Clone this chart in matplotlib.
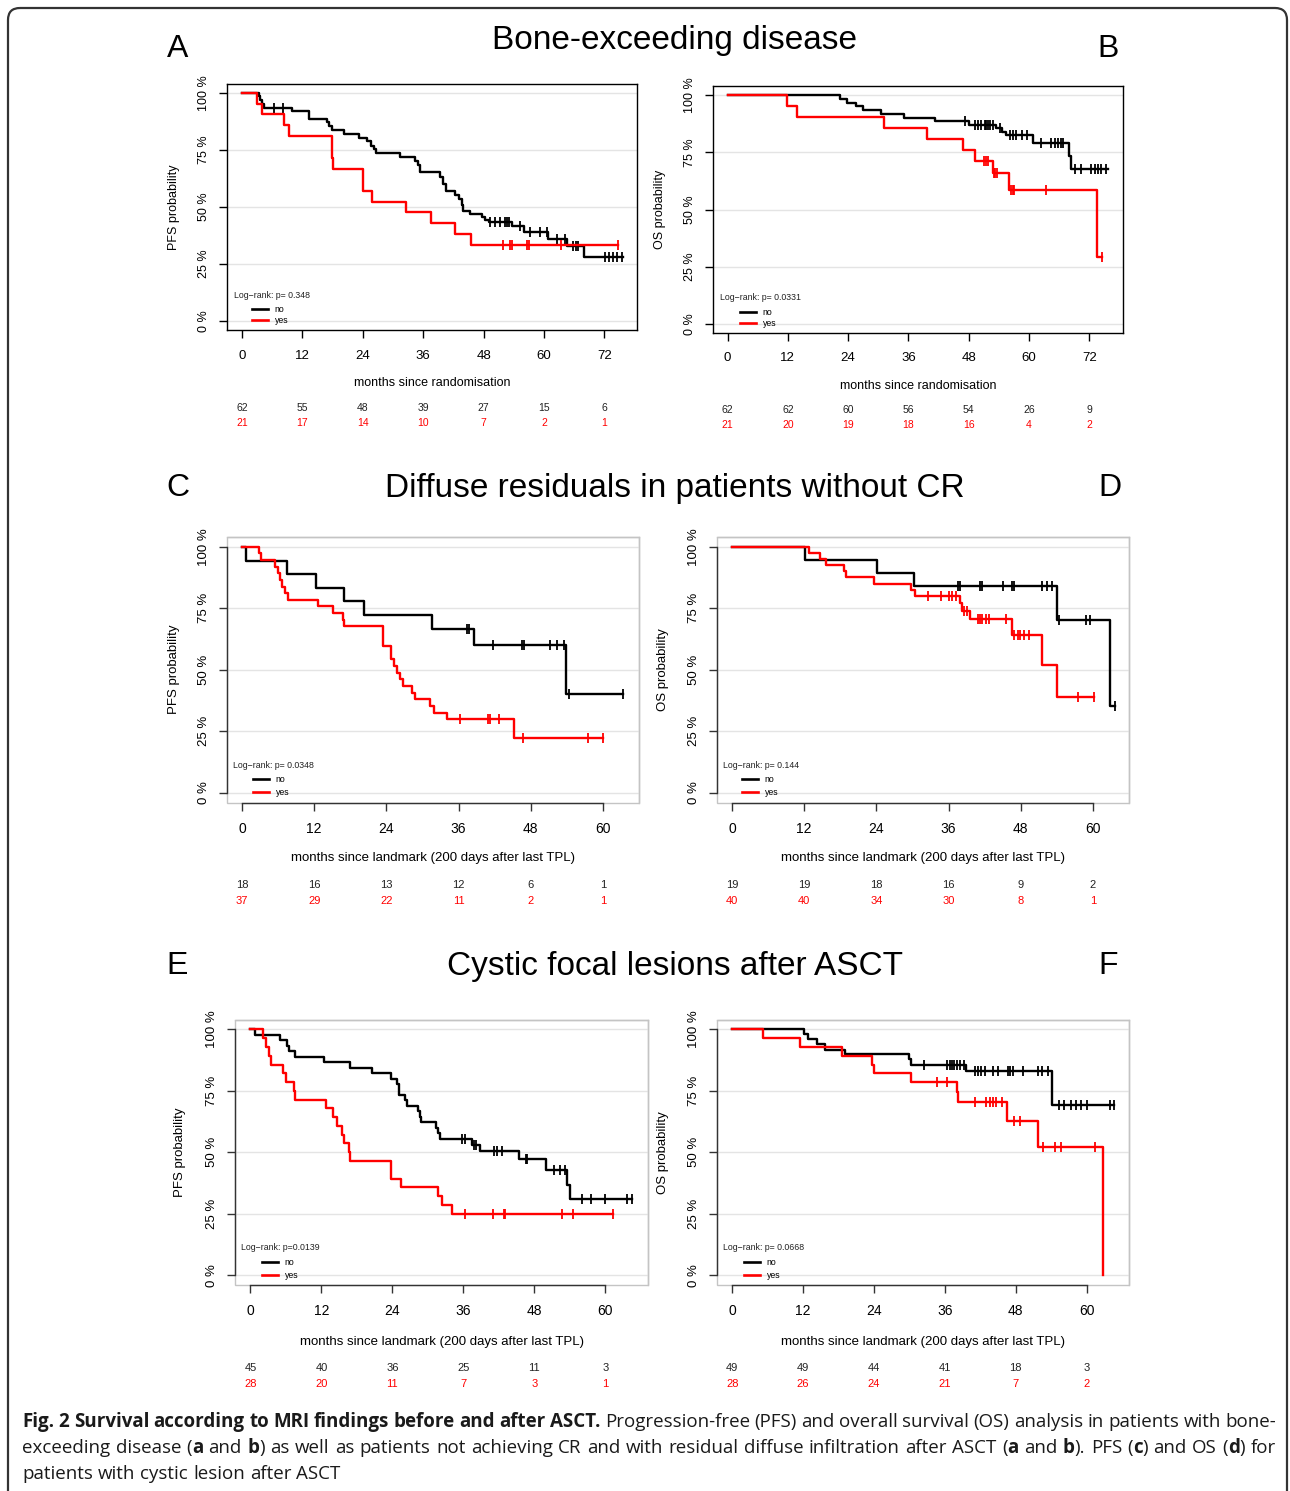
import numpy as np
import matplotlib
matplotlib.use("Agg")
import matplotlib.pyplot as plt
from matplotlib.patches import FancyBboxPatch, Rectangle
from matplotlib.lines import Line2D
from matplotlib.transforms import blended_transform_factory

W, H = 1290, 1491
RED = "#ff0000"
plt.rcParams["font.family"] = ["Liberation Sans", "DejaVu Sans"]

# ---------------- data (months, survival %) ----------------
# A: PFS, bone-exceeding disease
A_no_t = [3.3, 3.6, 4.0, 4.4, 9.9, 13.3, 16.8, 17.3, 17.8, 20.2, 23.3, 24.8, 25.6, 26.2, 26.7,
          31.3, 34.3, 34.9, 35.4, 39.3, 40.0, 40.6, 42.4, 43.2, 43.7, 44.0, 45.3, 47.7, 48.3,
          49.0, 53.6, 56.0, 60.9, 64.6, 68.0]
A_no_s = [98.4, 96.8, 95.2, 93.5, 91.9, 88.6, 87.0, 85.3, 83.6, 82.0, 80.3, 78.7, 76.8, 75.2, 73.6,
          71.9, 70.2, 68.3, 65.3, 63.3, 60.1, 56.9, 55.2, 53.6, 51.0, 48.3, 46.8, 45.5, 44.5,
          43.5, 41.5, 38.9, 36.0, 33.0, 28.0]
A_no_c = [6.4, 8.1, 49.3, 50.3, 51.3, 52.3, 52.7, 53.1, 55.2, 57.3, 59.3, 60.6, 62.6, 64.1,
          65.8, 66.3, 66.8, 72.2, 72.9, 73.7, 74.5, 75.5]
A_no_end = 75.7
A_yes_t = [2.9, 3.9, 8.4, 9.4, 17.9, 18.1, 24.0, 25.8, 32.6, 37.5, 42.4, 45.5]
A_yes_s = [95.2, 90.5, 85.7, 81.0, 71.4, 66.7, 57.1, 52.4, 47.6, 42.9, 38.1, 33.3]
A_yes_c = [51.8, 53.3, 53.7, 56.6, 57.0, 63.3, 74.7]
A_yes_end = 74.7
A_p = "Log\u2212rank: p= 0.348"
A_risk_no = [62, 55, 48, 39, 27, 15, 6]
A_risk_yes = [21, 17, 14, 10, 7, 2, 1]

# B: OS, bone-exceeding disease
B_no_t = [22.3, 23.8, 25.6, 26.9, 30.5, 35.2, 41.2, 48.0, 53.5, 54.7, 55.5, 60.8, 67.9, 68.4]
B_no_s = [98.4, 96.8, 95.2, 93.5, 91.9, 90.3, 88.7, 87.1, 85.6, 84.1, 82.6, 79.3, 73.5, 67.9]
B_no_c = [47.2, 49.2, 49.8, 50.5, 51.2, 51.5, 51.9, 52.2, 52.8, 54.2, 56.2, 56.8, 57.5, 58.5,
          59.5, 62.4, 64.4, 65.1, 65.8, 66.4, 66.8, 69.1, 70.4, 72.4, 73.1, 73.7, 74.4, 75.4]
B_no_end = 75.7
B_yes_t = [11.9, 13.8, 31.1, 39.7, 46.8, 49.2, 52.8, 56.1, 73.5]
B_yes_s = [95.2, 90.5, 85.7, 81.0, 76.2, 71.4, 65.9, 58.6, 29.3]
B_yes_c = [51.0, 51.5, 51.8, 53.0, 53.3, 53.6, 56.5, 56.8, 57.1, 63.4, 74.5]
B_yes_end = 74.5
B_p = "Log\u2212rank: p= 0.0331"
B_risk_no = [62, 62, 60, 56, 54, 26, 9]
B_risk_yes = [21, 20, 19, 18, 16, 4, 2]

# C: PFS, diffuse residuals without CR
C_no_t = [0.7, 7.5, 12.3, 16.9, 20.2, 31.6, 38.5, 53.9]
C_no_s = [94.4, 88.9, 83.3, 77.8, 72.2, 66.7, 60.0, 40.0]
C_no_c = [37.4, 37.8, 41.7, 46.5, 46.8, 51.2, 52.4, 53.5, 54.3, 63.4]
C_no_end = 63.4
C_yes_t = [2.9, 3.2, 5.5, 5.9, 6.3, 6.7, 7.2, 7.7, 12.7, 15.2, 16.8, 17.0, 23.4, 24.7, 25.2,
           25.8, 26.3, 26.8, 28.3, 28.8, 31.3, 31.9, 34.0, 45.3]
C_yes_s = [97.3, 94.6, 91.9, 89.2, 86.5, 83.8, 81.1, 78.4, 75.7, 73.0, 70.3, 67.6, 59.6, 54.2,
           51.5, 48.8, 46.1, 43.4, 40.7, 37.9, 35.2, 32.5, 29.8, 22.4]
C_yes_c = [36.2, 40.9, 41.2, 42.7, 46.7, 57.5, 60.0]
C_yes_end = 60.0
C_p = "Log\u2212rank: p= 0.0348"
C_risk_no = [18, 16, 13, 12, 6, 1]
C_risk_yes = [37, 29, 22, 11, 2, 1]

# D: OS, diffuse residuals without CR
D_no_t = [12.1, 24.1, 30.3, 54.0, 62.8]
D_no_s = [94.7, 89.5, 84.2, 70.2, 35.1]
D_no_c = [37.6, 37.9, 41.2, 41.6, 45.1, 46.5, 46.8, 51.5, 52.3, 53.2, 54.3, 58.8, 59.5, 63.6]
D_no_end = 63.6
D_yes_t = [12.8, 14.6, 15.7, 18.6, 18.9, 23.6, 29.8, 30.4, 37.9, 38.2, 39.5, 46.5, 51.5, 54.1]
D_yes_s = [97.5, 95.0, 92.5, 90.0, 87.5, 85.0, 82.5, 80.0, 77.1, 74.0, 70.6, 64.1, 51.9, 38.9]
D_yes_c = [32.6, 34.7, 36.1, 36.5, 37.3, 38.6, 39.0, 40.9, 41.2, 41.6, 42.3, 42.7, 45.6, 46.8,
           47.6, 47.9, 48.6, 49.3, 57.6, 60.1]
D_yes_end = 60.1
D_p = "Log\u2212rank: p= 0.144"
D_risk_no = [19, 19, 18, 16, 9, 2]
D_risk_yes = [40, 40, 34, 30, 8, 1]

# E: PFS, cystic focal lesions
E_no_t = [0.7, 5.0, 6.2, 6.5, 7.6, 12.4, 16.9, 20.5, 23.7, 24.8, 25.1, 25.2, 26.2, 26.5, 28.3,
          28.6, 28.8, 31.4, 31.7, 32.0, 37.5, 38.8, 45.4, 49.9, 53.5, 54.0]
E_no_s = [97.8, 95.6, 93.3, 91.1, 88.9, 86.7, 84.4, 82.2, 80.0, 77.8, 75.6, 73.3, 71.1, 68.9, 66.7,
          64.4, 62.2, 60.0, 57.8, 55.6, 53.1, 50.4, 47.3, 42.6, 36.8, 30.9]
E_no_c = [35.8, 36.2, 37.8, 38.1, 41.1, 41.7, 42.5, 46.6, 46.8, 51.3, 52.4, 53.2, 56.1, 57.5,
          60.0, 63.7, 64.5]
E_no_end = 64.5
E_yes_t = [2.1, 2.7, 3.1, 3.4, 5.5, 6.1, 7.3, 7.5, 12.7, 14.0, 14.6, 15.5, 15.8, 16.7, 16.9,
           23.7, 25.5, 31.7, 32.3, 34.1]
E_yes_s = [96.4, 92.9, 89.3, 85.7, 82.1, 78.6, 75.0, 71.4, 67.9, 64.3, 60.7, 57.1, 53.6, 50.0,
           46.4, 39.1, 35.8, 32.2, 28.6, 25.0]
E_yes_c = [36.3, 41.0, 42.8, 43.1, 52.7, 54.6, 61.3]
E_yes_end = 61.3
E_p = "Log\u2212rank: p=0.0139"
E_risk_no = [45, 40, 36, 25, 11, 3]
E_risk_yes = [28, 20, 11, 7, 3, 1]

# F: OS, cystic focal lesions
F_no_t = [12.1, 12.9, 14.4, 15.7, 19.1, 29.9, 30.3, 39.6, 54.1]
F_no_s = [98.0, 95.9, 93.9, 91.8, 89.8, 87.8, 85.7, 83.2, 69.2]
F_no_c = [32.5, 36.3, 36.8, 37.2, 37.6, 38.1, 38.5, 39.3, 41.1, 41.7, 42.1, 42.8, 44.2, 45.0,
          46.7, 47.0, 47.6, 49.3, 51.7, 52.4, 53.5, 55.4, 56.2, 57.4, 58.3, 59.1, 60.0, 63.9, 64.7]
F_no_end = 64.7
F_yes_t = [5.2, 11.4, 18.6, 23.7, 24.0, 30.2, 38.0, 38.2, 46.5, 51.7, 62.8]
F_yes_s = [96.4, 92.9, 89.3, 85.7, 82.1, 78.6, 74.6, 70.4, 62.6, 52.1, 0.0]
F_yes_c = [34.7, 36.4, 41.1, 43.0, 43.6, 44.2, 44.7, 45.6, 47.8, 48.7, 52.6, 54.6, 55.6, 61.4]
F_yes_end = 62.8
F_p = "Log\u2212rank: p= 0.0668"
F_risk_no = [49, 49, 44, 41, 18, 3]
F_risk_yes = [28, 26, 24, 21, 7, 2]

TICKS_72 = [0, 12, 24, 36, 48, 60, 72]
TICKS_60 = [0, 12, 24, 36, 48, 60]
XLAB_RAND = "months since randomisation"
XLAB_LAND = "months since landmark (200 days after last TPL)"

SECTIONS = ["Bone-exceeding disease", "Diffuse residuals in patients without CR",
            "Cystic focal lesions after ASCT"]
LETTERS = ["A", "B", "C", "D", "E", "F"]

CAPTION = [
    "*Fig. 2 Survival according to MRI findings before and after ASCT.* Progression-free (PFS) "
    "and overall survival (OS) analysis in patients with bone-",
    "exceeding disease (*a* and *b*) as well as patients not achieving CR and with residual "
    "diffuse infiltration after ASCT (*a* and *b*). PFS (*c*) and OS (*d*) for",
    "patients with cystic lesion after ASCT",
]

# ---------------- figure ----------------
fig = plt.figure(figsize=(W / 100, H / 100), dpi=100)
bg = fig.add_axes([0, 0, 1, 1], zorder=-1)
bg.set_xlim(0, W)
bg.set_ylim(H, 0)
bg.axis("off")

bg.add_patch(FancyBboxPatch((8, 8), 1279, 1520, boxstyle="round,pad=0,rounding_size=12",
                            fill=False, ec="#333333", lw=1.6, clip_on=False))


def km(ax, t, s, cens, end, color):
    x = np.r_[0, t, end]
    y = np.r_[100, s, s[-1]]
    ax.step(x, y, where="post", color=color, lw=1.7, zorder=3)
    c = np.asarray(cens)
    idx = np.searchsorted(x, c, side="right") - 1
    ax.plot(c, y[idx], ls="none", marker="|", ms=7, mew=1.3, color=color, zorder=3)


# layout per panel: box (px), xlim, ylabel x, xlabel y, risk rows y, log-rank pos, legend pos, row gap
layout = [
    dict(box=(227, 83.6, 637, 330.4), xlim=(-3.0, 78.5), ylx=174, xly=383, ry=(408, 423),
         lr=(234, 295), lg=(252, 305), gap=0.25, fs=9.5, rfs=7.5, heavy=True),
    dict(box=(713, 86.2, 1123, 333.1), xlim=(-2.9, 78.7), ylx=660, xly=386, ry=(410, 425),
         lr=(720, 298), lg=(740, 308), gap=0.25, fs=9.5, rfs=7.5, heavy=True),
    dict(box=(227, 536.9, 639, 802.5), xlim=(-2.5, 66.0), ylx=174, xly=858, ry=(885, 901),
         lr=(233, 765), lg=(253, 775), gap=0.45, fs=10, rfs=8, heavy=False),
    dict(box=(717, 536.9, 1129, 802.5), xlim=(-2.5, 66.0), ylx=663, xly=858, ry=(885, 901),
         lr=(723, 765), lg=(742, 775), gap=0.45, fs=10, rfs=8, heavy=False),
    dict(box=(235, 1019.5, 648, 1285.1), xlim=(-2.6, 67.2), ylx=180, xly=1342, ry=(1368, 1384),
         lr=(241, 1247), lg=(262, 1258), gap=0.45, fs=10, rfs=8, heavy=False),
    dict(box=(717, 1019.5, 1129, 1285.1), xlim=(-2.6, 67.2), ylx=663, xly=1342, ry=(1368, 1384),
         lr=(723, 1247), lg=(744, 1258), gap=0.45, fs=10, rfs=8, heavy=False),
]

panels = [
    (A_no_t, A_no_s, A_no_c, A_no_end, A_yes_t, A_yes_s, A_yes_c, A_yes_end, A_p, A_risk_no, A_risk_yes,
     TICKS_72, "PFS probability", XLAB_RAND),
    (B_no_t, B_no_s, B_no_c, B_no_end, B_yes_t, B_yes_s, B_yes_c, B_yes_end, B_p, B_risk_no, B_risk_yes,
     TICKS_72, "OS probability", XLAB_RAND),
    (C_no_t, C_no_s, C_no_c, C_no_end, C_yes_t, C_yes_s, C_yes_c, C_yes_end, C_p, C_risk_no, C_risk_yes,
     TICKS_60, "PFS probability", XLAB_LAND),
    (D_no_t, D_no_s, D_no_c, D_no_end, D_yes_t, D_yes_s, D_yes_c, D_yes_end, D_p, D_risk_no, D_risk_yes,
     TICKS_60, "OS probability", XLAB_LAND),
    (E_no_t, E_no_s, E_no_c, E_no_end, E_yes_t, E_yes_s, E_yes_c, E_yes_end, E_p, E_risk_no, E_risk_yes,
     TICKS_60, "PFS probability", XLAB_LAND),
    (F_no_t, F_no_s, F_no_c, F_no_end, F_yes_t, F_yes_s, F_yes_c, F_yes_end, F_p, F_risk_no, F_risk_yes,
     TICKS_60, "OS probability", XLAB_LAND),
]

for lay, (nt, ns, nc, ne, yt, ys, yc, ye, ptxt, rno, ryes, ticks, ylab, xlab) in zip(layout, panels):
    x0, y0, x1, y1 = lay["box"]
    ax = fig.add_axes([x0 / W, 1 - y1 / H, (x1 - x0) / W, (y1 - y0) / H])
    ax.patch.set_alpha(0)  # let the log-rank text underneath show through
    ax.set_xlim(*lay["xlim"])
    ax.set_ylim(-4, 104)
    for g in [0, 25, 50, 75, 100]:
        ax.axhline(g, color="#e4e4e4", lw=1.0, zorder=1)

    km(ax, nt, ns, nc, ne, "black")
    km(ax, yt, ys, yc, ye, RED)

    ax.set_xticks(ticks)
    ax.set_xticklabels([str(t) for t in ticks], fontsize=lay["fs"])
    ax.set_yticks([0, 25, 50, 75, 100])
    ax.set_yticklabels(["0 %", "25 %", "50 %", "75 %", "100 %"], rotation=90, va="center",
                       fontsize=lay["fs"] - 0.5)
    axis_col = "black" if lay["heavy"] else "#333333"
    ax.tick_params(axis="x", length=5.8, width=1, pad=8, colors=axis_col, labelcolor="black")
    ax.tick_params(axis="y", length=5.8, width=1, pad=6.5, colors=axis_col, labelcolor="black")
    for side, sp in ax.spines.items():
        sp.set_linewidth(1.0)
        sp.set_color("black" if lay["heavy"] else "#c4c4c4")
    if not lay["heavy"]:
        ax.spines["left"].set_bounds(0, 100)
        ax.spines["bottom"].set_bounds(ticks[0], ticks[-1])
        ax.spines["left"].set_color(axis_col)
        ax.spines["bottom"].set_color(axis_col)
        ax.add_patch(Rectangle((0, 0), 1, 1, transform=ax.transAxes, fill=False,
                               ec="#c4c4c4", lw=1.0, zorder=0.5, clip_on=False))

    # axis titles
    ytr = blended_transform_factory(bg.transData, ax.transData)
    bg.text(lay["ylx"], 50, ylab, transform=ytr, rotation=90, ha="center", va="center",
            fontsize=lay["fs"] - 0.5)
    bg.text((x0 + x1) / 2, lay["xly"], xlab, ha="center", va="center", fontsize=lay["fs"] - 0.5)

    # numbers at risk
    xtr = blended_transform_factory(ax.transData, bg.transData)
    for t, a, b in zip(ticks, rno, ryes):
        bg.text(t, lay["ry"][0], str(a), transform=xtr, ha="center", va="center",
                fontsize=lay["rfs"], color="#222222")
        bg.text(t, lay["ry"][1], str(b), transform=xtr, ha="center", va="center",
                fontsize=lay["rfs"], color=RED)

    # log-rank and legend
    ax.text(lay["lr"][0], lay["lr"][1], ptxt, transform=bg.transData, ha="left", va="center",
            fontsize=6.3, color="#222222", zorder=4)
    handles = [Line2D([], [], color="black", lw=1.9), Line2D([], [], color=RED, lw=1.9)]
    ax.legend(handles, ["no", "yes"], loc="upper left", bbox_to_anchor=(lay["lg"][0], lay["lg"][1]),
              bbox_transform=bg.transData, frameon=False, fontsize=6.3, handlelength=1.8,
              handletextpad=0.8, labelspacing=lay["gap"], borderpad=0, borderaxespad=0)

# section titles and panel letters
for title, ty in zip(SECTIONS, [41, 489, 967]):
    bg.text(675, ty, title, ha="center", va="center", fontsize=24)
for letter, (lx, ly) in zip(LETTERS, [(178, 49), (1108, 49), (178, 488), (1110, 488),
                                      (177, 966), (1108, 966)]):
    bg.text(lx, ly, letter, ha="center", va="center", fontsize=23)

# caption, justified between x=22 and x=1276
r = fig.canvas.get_renderer()
cap_font = dict(family=["Open Sans", "DejaVu Sans"], fontsize=13.5, color="#1a1a1a")
bold = False
for i, line in enumerate(CAPTION):
    yb = 1427 + 26 * i
    words = []
    for w in line.split(" "):
        segs = []
        for j, piece in enumerate(w.split("*")):
            if j > 0:
                bold = not bold
            if piece:
                t = bg.text(0, yb, piece, va="baseline", ha="left",
                            fontweight="bold" if bold else "normal", **cap_font)
                segs.append((t, t.get_window_extent(renderer=r).width))
        words.append(segs)
    widths = [sum(wd for _, wd in segs) for segs in words]
    if i < len(CAPTION) - 1:
        gap = (1276 - 22 - sum(widths)) / (len(words) - 1)
    else:
        gap = 5.0
    x = 22
    for segs, wd in zip(words, widths):
        for t, tw in segs:
            t.set_x(x)
            x += tw
        x += gap

fig.savefig("out.png", dpi=100)
